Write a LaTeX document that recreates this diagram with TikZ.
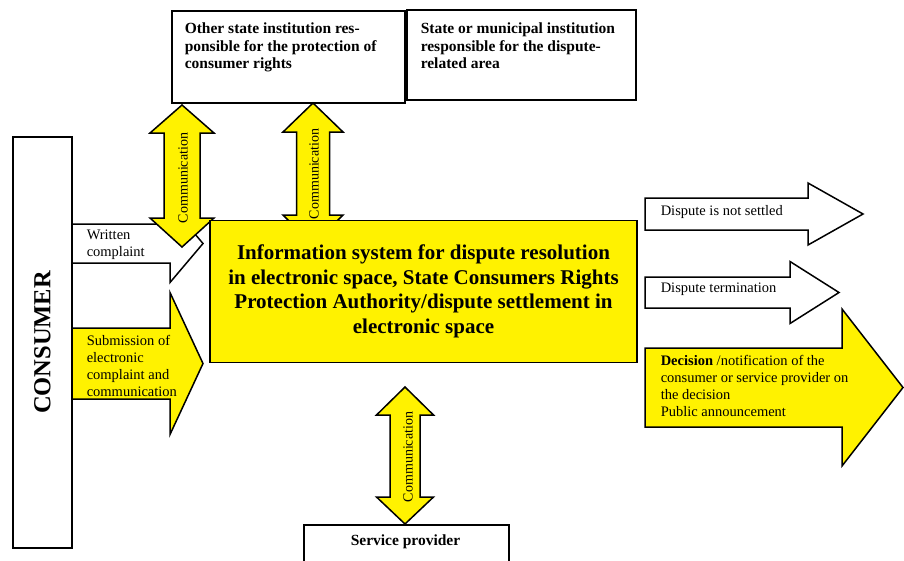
\documentclass[tikz,border=0pt]{standalone}
\usepackage{fontspec}
\setmainfont{Liberation Serif}
\newcommand{\rightblock}[7]{%
  \filldraw[#7] (#1,#4-#5) -- (#2,#4-#5) -- (#2,#4-#6) -- (#3,#4)
    -- (#2,#4+#6) -- (#2,#4+#5) -- (#1,#4+#5) -- cycle;}
\newcommand{\updownblock}[8]{%
  \filldraw[#8] (#1,#2) -- (#1+#7,#3) -- (#1+#6,#3) -- (#1+#6,#4) -- (#1+#7,#4)
    -- (#1,#5) -- (#1-#7,#4) -- (#1-#6,#4) -- (#1-#6,#3) -- (#1-#7,#3) -- cycle;}
\begin{document}
\begin{tikzpicture}[x=1pt,y=-1pt,line width=1.5pt,
    boxed/.style={draw,fill=white,inner sep=0pt,anchor=north west},
    toptext/.style={font=\bfseries\fontsize{15.5}{17.5}\selectfont,align=left,inner sep=0pt,anchor=north west},
    small/.style={font=\fontsize{14.5}{16.7}\selectfont,align=left,inner sep=0pt,anchor=west},
    commtext/.style={font=\fontsize{14}{16}\selectfont,rotate=90,inner sep=0pt},
    yellowarrow/.style={fill=yellow,draw=black},
    whitearrow/.style={fill=white,draw=black}]
  \useasboundingbox (0,0) rectangle (904,560);
  \clip (0,0) rectangle (904,560);

  \node[boxed,minimum width=233pt,minimum height=92pt] (other) at (171,10) {};
  \node[boxed,minimum width=229pt,minimum height=90pt] (municipal) at (406,9) {};
  \node[toptext] (othertext) at ([xshift=13pt,yshift=-12pt]other.north west)
    {Other state institution res-\\ponsible for the protection of\\consumer rights};
  \node[toptext] (municipaltext) at ([xshift=14pt,yshift=-13pt]municipal.north west)
    {State or municipal institution\\responsible for the dispute-\\related area};

  \rightblock{72}{170}{203}{243.5}{19.5}{39}{whitearrow}
  \rightblock{72}{170}{203}{363.5}{35.5}{71}{yellowarrow}

  \updownblock{182}{105}{133}{218}{247}{18}{32}{yellowarrow}
  \updownblock{313}{103}{132}{215}{245}{16.5}{30}{yellowarrow}
  \updownblock{405}{387}{415}{497}{524}{15}{28.5}{yellowarrow}

  \node[draw,fill=yellow,minimum width=427pt,minimum height=142pt,align=center,
    font=\bfseries\fontsize{21}{24.5}\selectfont] (mainbox) at (423.5,291.5)
    {Information system for dispute resolution\\in electronic space, State Consumers Rights\\Protection Authority/dispute settlement in\\electronic space};

  \node[boxed,minimum width=205pt,minimum height=60pt] (provider) at (303,524) {};
  \node[font=\bfseries\fontsize{15.5}{17.5}\selectfont,inner sep=0pt] (providertext)
    at (405.5,542) {Service provider};

  \rightblock{645}{808}{863}{214}{16}{31}{whitearrow}
  \rightblock{645}{790}{839}{292.5}{15.5}{31}{whitearrow}
  \rightblock{645}{842}{903}{387.5}{39.5}{78.5}{yellowarrow}

  \node[draw,fill=white,rotate=90,minimum width=411pt,minimum height=59pt,inner sep=0pt,
    font=\bfseries\fontsize{24.5}{28}\selectfont] (consumer) at (42.5,342.5) {CONSUMER};

  \node[small] (written) at (86,245) {Written\\complaint};
  \node[small] (submission) at (86,366) {Submission of\\electronic\\complaint and\\communication};
  \node[small] (notsettled) at (660,212) {Dispute is not settled};
  \node[small] (termination) at (660,289) {Dispute termination};
  \node[small] (decision) at (660,386) {\textbf{Decision} /notification of the\\consumer or service provider on\\the decision\\Public announcement};

  \node[commtext] (commone) at (183,178) {Communication};
  \node[commtext] (commtwo) at (314,174) {Communication};
  \node[commtext] (commthree) at (408,457) {Communication};
\end{tikzpicture}
\end{document}
